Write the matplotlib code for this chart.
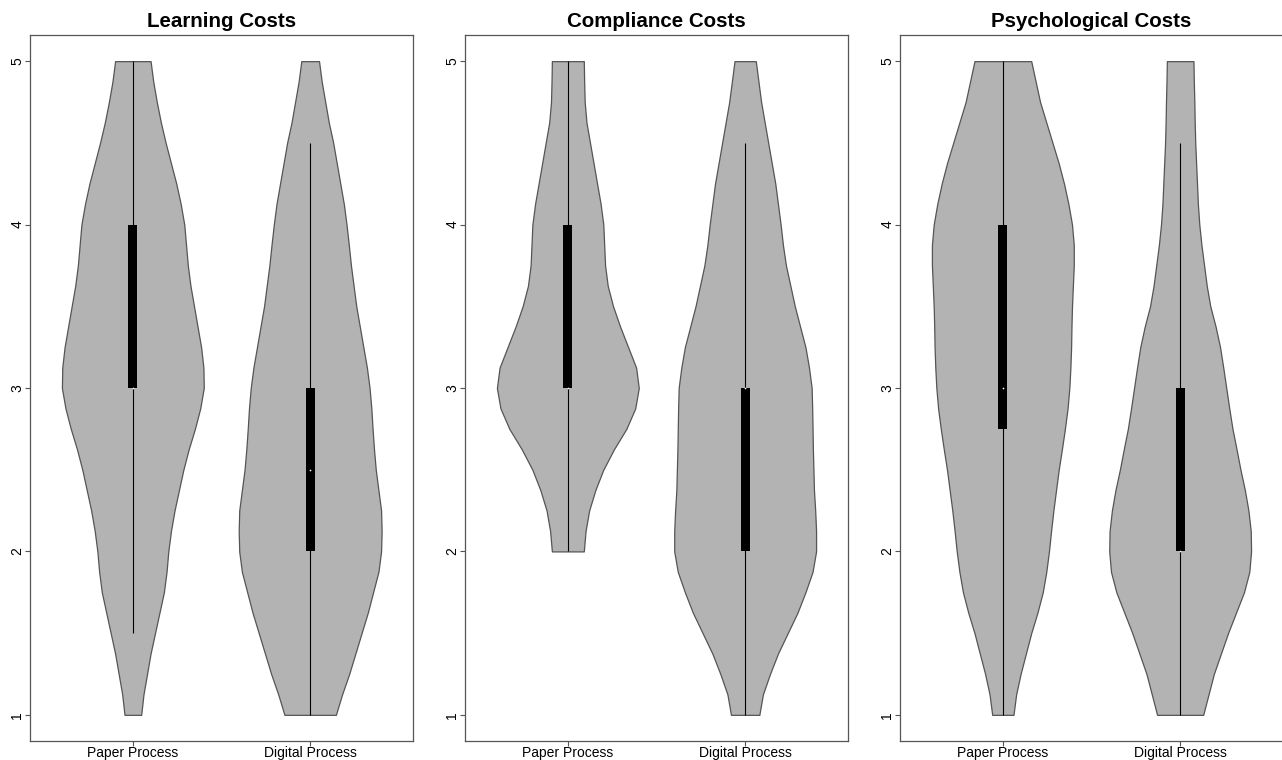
import numpy as np
import matplotlib
matplotlib.use("Agg")
import matplotlib.pyplot as plt

# ---------------- data ----------------
titles = ["Learning Costs", "Compliance Costs", "Psychological Costs"]
groups = ["Paper Process", "Digital Process"]
y_ticks = [1, 2, 3, 4, 5]

# density outline: y levels (step 0.125) and half-widths (x units) of each violin
y_full = [1.0, 1.125, 1.25, 1.375, 1.5, 1.625, 1.75, 1.875,
          2.0, 2.125, 2.25, 2.375, 2.5, 2.625, 2.75, 2.875,
          3.0, 3.125, 3.25, 3.375, 3.5, 3.625, 3.75, 3.875,
          4.0, 4.125, 4.25, 4.375, 4.5, 4.625, 4.75, 4.875, 5.0]
y_from2 = [2.0, 2.125, 2.25, 2.375, 2.5, 2.625, 2.75, 2.875,
           3.0, 3.125, 3.25, 3.375, 3.5, 3.625, 3.75, 3.875,
           4.0, 4.125, 4.25, 4.375, 4.5, 4.625, 4.75, 4.875, 5.0]

learning_paper_w = [0.047, 0.06, 0.08, 0.10, 0.125, 0.15, 0.175, 0.19,
                    0.20, 0.215, 0.235, 0.26, 0.285, 0.315, 0.35, 0.38,
                    0.40, 0.398, 0.385, 0.365, 0.345, 0.325, 0.31, 0.30,
                    0.29, 0.27, 0.245, 0.215, 0.185, 0.158, 0.135, 0.115, 0.10]
learning_digital_w = [0.145, 0.18, 0.22, 0.255, 0.29, 0.325, 0.355, 0.385,
                      0.40, 0.403, 0.40, 0.385, 0.37, 0.36, 0.352, 0.345,
                      0.335, 0.32, 0.30, 0.28, 0.26, 0.245, 0.23, 0.218,
                      0.205, 0.19, 0.17, 0.15, 0.13, 0.105, 0.085, 0.065, 0.05]
compliance_paper_w = [0.09, 0.10, 0.12, 0.155, 0.20, 0.26, 0.33, 0.38,
                      0.40, 0.385, 0.34, 0.295, 0.255, 0.225, 0.21, 0.205,
                      0.20, 0.185, 0.165, 0.145, 0.125, 0.105, 0.095, 0.092, 0.09]
compliance_digital_w = [0.08, 0.10, 0.14, 0.185, 0.24, 0.295, 0.34, 0.38,
                        0.40, 0.40, 0.395, 0.388, 0.385, 0.382, 0.38, 0.378,
                        0.375, 0.36, 0.34, 0.31, 0.28, 0.255, 0.23, 0.213,
                        0.20, 0.185, 0.17, 0.15, 0.13, 0.11, 0.09, 0.075, 0.06]
psych_paper_w = [0.06, 0.075, 0.10, 0.13, 0.16, 0.195, 0.225, 0.245,
                 0.26, 0.272, 0.285, 0.30, 0.315, 0.333, 0.35, 0.365,
                 0.375, 0.381, 0.385, 0.387, 0.39, 0.395, 0.40, 0.40,
                 0.39, 0.37, 0.345, 0.315, 0.28, 0.245, 0.21, 0.185, 0.16]
psych_digital_w = [0.13, 0.16, 0.19, 0.23, 0.27, 0.315, 0.36, 0.39,
                   0.40, 0.398, 0.385, 0.365, 0.34, 0.318, 0.295, 0.277,
                   0.26, 0.243, 0.225, 0.20, 0.17, 0.15, 0.135, 0.12,
                   0.108, 0.10, 0.095, 0.09, 0.085, 0.082, 0.08, 0.077, 0.075]

# box statistics: (whisker low, Q1, median, Q3, whisker high)
learning_stats = [(1.5, 3.0, 3.0, 4.0, 5.0), (1.0, 2.0, 2.5, 3.0, 4.5)]
compliance_stats = [(2.0, 3.0, 3.0, 4.0, 5.0), (1.0, 2.0, 3.0, 3.0, 4.5)]
psych_stats = [(1.0, 2.75, 3.0, 4.0, 5.0), (1.0, 2.0, 2.0, 3.0, 4.5)]

panels = [
    (titles[0], [(y_full, learning_paper_w), (y_full, learning_digital_w)], learning_stats),
    (titles[1], [(y_from2, compliance_paper_w), (y_full, compliance_digital_w)], compliance_stats),
    (titles[2], [(y_full, psych_paper_w), (y_full, psych_digital_w)], psych_stats),
]

# ---------------- figure ----------------
plt.rcParams['font.family'] = ['Liberation Sans', 'DejaVu Sans']
fig = plt.figure(figsize=(12.82, 7.60), dpi=100)

lefts = [30 / 1282, 465 / 1282, 900 / 1282]
width = 383 / 1282
bottom = 19 / 760
height = 706 / 760

fill_col = "#B3B3B3"
edge_col = "#555555"
axis_col = "#555555"

for (title, violins, stats), left in zip(panels, lefts):
    ax = fig.add_axes([left, bottom, width, height])
    for i, ((ys, ws), st) in enumerate(zip(violins, stats)):
        pos = i + 1
        ys = np.asarray(ys)
        ws = np.asarray(ws)
        ax.fill_betweenx(ys, pos - ws, pos + ws, facecolor=fill_col,
                         edgecolor=edge_col, linewidth=0.9, zorder=1)
        lo, q1, med, q3, hi = st
        ax.vlines(pos, lo, hi, color="black", linewidth=0.8, zorder=2)
        ax.bar(pos, q3 - q1, bottom=q1, width=0.05, color="black",
               linewidth=0, zorder=3)
        ax.scatter([pos], [med], s=1.5, color="white", linewidths=0, zorder=4)

    ax.set_xlim(0.42, 2.58)
    ax.set_ylim(0.84, 5.16)
    ax.set_xticks([1, 2])
    ax.set_xticklabels(groups, fontsize=10)
    ax.set_yticks(y_ticks)
    ax.set_yticklabels([str(t) for t in y_ticks], fontsize=10, rotation=90,
                       va="center")
    ax.tick_params(axis="both", length=3.5, width=0.8, color=axis_col)
    ax.tick_params(axis="x", pad=0)
    ax.tick_params(axis="y", pad=0.5)
    for sp in ax.spines.values():
        sp.set_color(axis_col)
        sp.set_linewidth(0.9)
    ax.set_title(title, fontsize=14.8, fontweight="bold", pad=6)

fig.savefig("out.png", dpi=100)
